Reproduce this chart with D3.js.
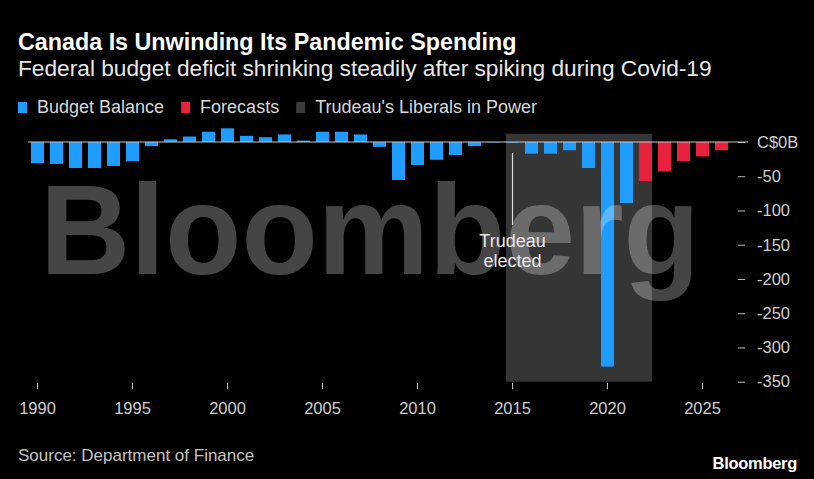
<!DOCTYPE html>
<html><head><meta charset="utf-8">
<script src="https://cdn.jsdelivr.net/npm/d3@7"></script>
<style>
html,body{margin:0;padding:0;background:#000;}
svg{display:block;}
text{font-family:"Liberation Sans",Arial,sans-serif;}
</style></head><body>
<svg id="c" width="814" height="479"></svg>
<script>
// ---- data ----
const actualYears = [1990,1991,1992,1993,1994,1995,1996,1997,1998,1999,2000,2001,2002,2003,2004,2005,2006,2007,2008,2009,2010,2011,2012,2013,2014,2015,2016,2017,2018,2019,2020,2021];
const actualValues = [-31,-32,-38,-38,-35,-28,-6,4,8,15,20,9,7,11,2,15,15,11,-7,-55.5,-33.5,-26,-19,-6,-0.6,-1,-17,-17,-12,-38,-328,-89];
const forecastYears = [2022,2023,2024,2025,2026];
const forecastValues = [-57,-43,-28,-21,-12];
const liberalSpan = [2015,2022];
const electionYear = 2015;
const xTickYears = [1990,1995,2000,2005,2010,2015,2020,2025];
const yTickValues = [0,-50,-100,-150,-200,-250,-300,-350];
const legendLabels = ["Budget Balance","Forecasts","Trudeau's Liberals in Power"];
const titleText = "Canada Is Unwinding Its Pandemic Spending";
const subtitleText = "Federal budget deficit shrinking steadily after spiking during Covid-19";
const sourceText = "Source: Department of Finance";

// ---- style ----
const BLUE = "#1f9dff", RED = "#e8213f", BAND = "#353535";
const svg = d3.select("#c");
svg.append("rect").attr("width",814).attr("height",479).attr("fill","#000");

const allYears = actualYears.concat(forecastYears);
const x = d3.scaleBand().domain(allYears).range([28,731]).paddingInner(0.316).paddingOuter(0.158);
const y = d3.scaleLinear().domain([-350,0]).range([381.7,142]);

// title block
svg.append("text").attr("x",18).attr("y",50).attr("fill","#fff")
  .attr("font-size",23.3).attr("font-weight","bold").text(titleText);
svg.append("text").attr("x",18).attr("y",76).attr("fill","#e8e8e8")
  .attr("font-size",22.7).text(subtitleText);

// legend
const legendColors = [BLUE, RED, "#3c3c3c"];
let lx = 18;
legendLabels.forEach((lab,i)=>{
  svg.append("rect").attr("x",lx).attr("y",102).attr("width",9).attr("height",11).attr("fill",legendColors[i]);
  const t = svg.append("text").attr("x",lx+19).attr("y",113).attr("fill","#d8d8d8")
    .attr("font-size",18).text(lab);
  lx += 19 + t.node().getComputedTextLength() + 17;
});

// Liberal band
svg.append("rect")
  .attr("x", x(liberalSpan[0]))
  .attr("width", x(liberalSpan[1]) + x.bandwidth() - x(liberalSpan[0]))
  .attr("y", y(12)).attr("height", y(-350) - y(12))
  .attr("fill", BAND);

// bars
const barData = actualYears.map((yr,i)=>({yr, v:actualValues[i], c:BLUE}))
  .concat(forecastYears.map((yr,i)=>({yr, v:forecastValues[i], c:RED})));
svg.append("g").selectAll("rect").data(barData).join("rect")
  .attr("x", d=>x(d.yr)).attr("width", x.bandwidth())
  .attr("y", d=>y(Math.max(0,d.v)))
  .attr("height", d=>Math.abs(y(d.v)-y(0)))
  .attr("fill", d=>d.c);

// zero line
svg.append("line").attr("x1",28).attr("x2",748).attr("y1",y(0)).attr("y2",y(0))
  .attr("stroke","#c8c8c8").attr("stroke-width",1);

// watermark
svg.append("text").attr("x",40).attr("y",274)
  .attr("font-size",128).attr("font-weight","bold")
  .attr("fill","#fff").attr("fill-opacity",0.27)
  .attr("textLength",660).attr("lengthAdjust","spacingAndGlyphs")
  .text("Bloomberg");

// annotation
const ax = x(electionYear) + x.bandwidth()/2;
svg.append("line").attr("x1",ax).attr("x2",ax).attr("y1",153).attr("y2",225)
  .attr("stroke","#e0e0e0").attr("stroke-width",1.2);
svg.append("text").attr("x",ax).attr("y",247).attr("text-anchor","middle")
  .attr("fill","#e8e8e8").attr("font-size",18).text("Trudeau");
svg.append("text").attr("x",ax).attr("y",267).attr("text-anchor","middle")
  .attr("fill","#e8e8e8").attr("font-size",18).text("elected");

// x axis
const xAxis = svg.append("g").attr("transform","translate(0,383)")
  .call(d3.axisBottom(x).tickValues(xTickYears).tickSize(6).tickPadding(13));
xAxis.select(".domain").remove();
xAxis.selectAll("line").attr("stroke","#bbb");
xAxis.selectAll("text").attr("fill","#cfcfcf").attr("font-size",16.5)
  .attr("font-family","Liberation Sans, Arial, sans-serif");

// y axis
const yAxis = svg.append("g").attr("transform","translate(738,0)")
  .call(d3.axisRight(y).tickValues(yTickValues).tickSize(7).tickPadding(12)
    .tickFormat(d=> d===0 ? "C$0B" : d3.format("d")(d).replace("−","-")));
yAxis.select(".domain").remove();
yAxis.selectAll("line").attr("stroke","#bbb");
yAxis.selectAll("text").attr("fill","#cfcfcf").attr("font-size",16.5)
  .attr("font-family","Liberation Sans, Arial, sans-serif");

// footer
svg.append("text").attr("x",18).attr("y",461).attr("fill","#c4c4c4")
  .attr("font-size",17).text(sourceText);
svg.append("text").attr("x",797).attr("y",469).attr("text-anchor","end").attr("fill","#fff")
  .attr("font-size",16.5).attr("font-weight","bold").attr("letter-spacing",-0.3).text("Bloomberg");
</script>
</body></html>
